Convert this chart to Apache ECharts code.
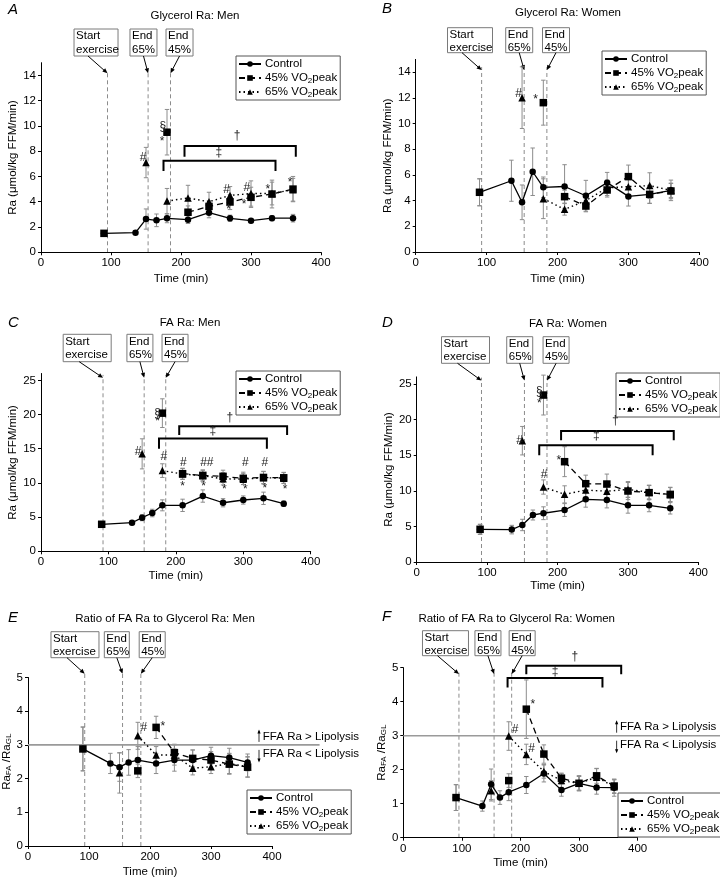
<!DOCTYPE html>
<html><head><meta charset="utf-8">
<script src="https://cdn.jsdelivr.net/npm/echarts@6/dist/echarts.min.js"></script>
<style>html,body{margin:0;padding:0;background:#fff}#c{width:720px;height:880px}</style>
</head><body><div id="c"></div>
<script>
const FONT = '"Liberation Sans", Arial, Helvetica, sans-serif';
// ---------- shared categories / ticks ----------
const times = [90,135,150,165,180,210,240,270,300,330,360];
const iso45Times = [90,180];
const rec45Times = [210,240,270,300,330,360];
const iso65Times = [150];
const rec65Times = [180,210,240,270,300,330,360];
const xTicks = [0,100,200,300,400];
const yTicksGly = [0,2,4,6,8,10,12,14];
const yTicksFA = [0,5,10,15,20,25];
const yTicksRatio = [0,1,2,3,4,5];
const seriesNames = ['Control','45% VO2peak','65% VO2peak'];
const eventLabels = [['Start','exercise'],['End','65%'],['End','45%']];
const titles = {A:'Glycerol Ra: Men',B:'Glycerol Ra: Women',C:'FA Ra: Men',D:'FA Ra: Women',E:'Ratio of FA Ra to Glycerol Ra: Men',F:'Ratio of FA Ra to Glycerol Ra: Women'};

// ---------- A: Glycerol Ra, men ----------
const glyMenCtrl = [1.5,1.55,2.63,2.53,2.69,2.58,3.13,2.69,2.5,2.7,2.7];
const glyMenCtrlErr = [0.1,0.1,0.8,0.5,0.35,0.3,0.4,0.25,0.15,0.2,0.3];
const glyMen45Iso = [1.5,9.5];
const glyMen45IsoErr = [0.1,1.8];
const glyMen45Rec = [3.17,3.63,3.98,4.35,4.61,5.0];
const glyMen45RecErr = [0.5,0.45,0.6,0.8,1.1,1.0];
const glyMen65Iso = [7.1];
const glyMen65IsoErr = [1.2];
const glyMen65Rec = [4.05,4.3,4.0,4.5,4.65,4.65,4.95];
const glyMen65RecErr = [1.0,1.0,0.75,0.7,1.0,0.9,0.9];
// ---------- B: Glycerol Ra, women ----------
const glyWomCtrl = [4.65,5.55,3.87,6.25,5.04,5.1,4.38,5.4,4.33,4.49,4.8];
const glyWomCtrlErr = [1.05,1.6,1.35,1.85,0.8,1.7,1.2,0.8,0.75,0.7,0.8];
const glyWom45Iso = [4.65,11.63];
const glyWom45IsoErr = [1.05,1.75];
const glyWom45Rec = [4.31,3.58,4.83,5.87,4.49,4.75];
const glyWom45RecErr = [0.5,0.45,0.55,0.9,0.7,0.6];
const glyWom65Iso = [12.02];
const glyWom65IsoErr = [2.4];
const glyWom65Rec = [4.15,3.32,4.0,5.0,5.09,5.17,4.8];
const glyWom65RecErr = [1.55,0.45,0.55,0.6,0.7,1.0,0.55];
// ---------- C: FA Ra, men ----------
const faMenCtrl = [3.95,4.18,4.92,5.6,6.72,6.72,8.08,7.1,7.5,7.75,6.96];
const faMenCtrlErr = [0.3,0.3,0.45,0.55,0.8,0.9,0.9,0.6,0.6,0.9,0.4];
const faMen45Iso = [3.95,20.2];
const faMen45IsoErr = [0.3,2.1];
const faMen45Rec = [11.35,11.1,10.96,10.67,10.8,10.75];
const faMen45RecErr = [0.8,0.8,0.9,0.9,0.9,0.8];
const faMen65Iso = [14.25];
const faMen65IsoErr = [2.2];
const faMen65Rec = [11.8,11.3,11.05,10.6,10.55,10.75,10.7];
const faMen65RecErr = [1.0,0.8,0.8,0.9,0.8,0.9,0.8];
// ---------- D: FA Ra, women ----------
const faWomCtrl = [4.59,4.55,5.2,6.6,6.85,7.3,8.8,8.7,7.96,7.96,7.54];
const faWomCtrlErr = [0.7,0.6,0.8,0.7,0.9,0.9,1.1,1.1,1.1,0.9,0.8];
const faWom45Iso = [4.59,23.45];
const faWom45IsoErr = [0.7,2.8];
const faWom45Rec = [14.09,11.0,10.95,9.97,9.74,9.5];
const faWom45RecErr = [2.1,1.2,1.4,1.2,1.0,1.0];
const faWom65Iso = [17.04];
const faWom65IsoErr = [2.0];
const faWom65Rec = [10.53,9.5,10.1,9.95,10.2,9.8,9.45];
const faWom65RecErr = [1.0,1.2,1.0,1.1,1.1,1.0,1.0];
// ---------- E: ratio, men ----------
const ratioMenCtrl = [2.88,2.45,2.34,2.48,2.55,2.45,2.55,2.55,2.68,2.62,2.48];
const ratioMenCtrlErr = [0.65,0.3,0.42,0.38,0.4,0.3,0.33,0.3,0.25,0.28,0.25];
const ratioMen45Iso = [2.88,2.23];
const ratioMen45IsoErr = [0.65,0.2];
const ratioMen45Rec = [3.52,2.77,2.6,2.55,2.43,2.34];
const ratioMen45RecErr = [0.33,0.25,0.25,0.25,0.3,0.3];
const ratioMen65Iso = [2.17];
const ratioMen65IsoErr = [0.6];
const ratioMen65Rec = [3.27,2.7,2.7,2.31,2.35,2.45,2.35];
const ratioMen65RecErr = [0.4,0.25,0.3,0.2,0.2,0.3,0.3];
// ---------- F: ratio, women ----------
const ratioWomCtrl = [1.18,0.93,1.57,1.18,1.34,1.55,1.89,1.4,1.6,1.48,1.47];
const ratioWomCtrlErr = [0.38,0.15,0.45,0.2,0.25,0.25,0.25,0.18,0.22,0.2,0.25];
const ratioWom45Iso = [1.18,1.68];
const ratioWom45IsoErr = [0.38,0.2];
const ratioWom45Rec = [3.78,2.46,1.75,1.6,1.82,1.52];
const ratioWom45RecErr = [0.86,0.27,0.15,0.22,0.22,0.2];
const ratioWom65Iso = [1.38];
const ratioWom65IsoErr = [0.3];
const ratioWom65Rec = [2.99,2.45,1.95,1.68,1.6,1.78,1.5];
const ratioWom65RecErr = [0.42,0.3,0.2,0.2,0.2,0.25,0.2];

// ---------- event lines (time, top value) ----------
const eventsA = [95,153,185], eventTopA = 14.4;
const eventsB = [93,153,185], eventTopB = 14.4;
const eventsC = [92,153,185], eventTopC = 25.8;
const eventsD = [92,153,185], eventTopD = 25.9;
const eventsE = [93,155,185], eventTopE = 5.2;
const eventsF = [95,155,185], eventTopF = 4.9;
// ---------- significance brackets [t1, t2, yTop, yEnd] ----------
const bracketsA = [[205,364,8.4,7.56],[175,335,7.25,6.43]];
const bracketsC = [[205,365,18.3,17.0],[175,335,16.5,15.0]];
const bracketsD = [[205,365,18.4,17.1],[174,335,16.4,15.0]];
const bracketsF = [[210,372,5.06,4.81],[178,340,4.7,4.42]];
// ---------- significance symbols [t, y, text] ----------
const notesA = [[146,7.45,'#'],[174,9.9,'§'],[173,8.75,'*'],[265,4.95,'#'],[294,5.15,'#'],[268,3.35,'*'],[290,3.75,'*'],[324,4.95,'*'],[356,5.5,'*'],[280,9.2,'†'],[254,7.85,'‡']];
const notesB = [[145,12.3,'#'],[169,11.85,'*']];
const notesC = [[144,14.6,'#'],[173,20.1,'§'],[173,18.9,'*'],[182,13.8,'#'],[211,12.9,'#'],[246,12.9,'##'],[303,12.9,'#'],[332,12.9,'#'],[210,9.4,'*'],[241,9.5,'*'],[272,9.0,'*'],[303,9.0,'*'],[332,9.1,'*'],[362,9.0,'*'],[280,19.5,'†'],[255,17.6,'‡']];
const notesD = [[146,17.1,'#'],[174,23.9,'§'],[174,22.3,'*'],[181,12.2,'#'],[202,14.3,'*'],[282,19.8,'†'],[255,17.7,'‡']];
const notesE = [[190,3.5,'#'],[221,3.55,'*']];
const notesF = [[191,3.19,'#'],[219,2.63,'#'],[221,3.9,'*'],[293,5.32,'†'],[259,4.88,'‡']];
const refLineValue = 3;
const refTexts = ['FFA Ra > Lipolysis','FFA Ra < Lipolysis'];

// ---------- layout (pixels) ----------
const layout = {
 A:{grid:{left:41,top:62.7,width:280,height:189.6},yMax:15,yTicks:yTicksGly,title:[195,16],letter:[8,2],leg:[236,56],
    box:{top:29,h:27,cx:[78.6,146.4,197.9],w:[44,27,27]},xGap:21,yGap:22,yName:'Ra (μmol/kg FFM/min)'},
 B:{grid:{left:415.7,top:59.4,width:283.6,height:192.6},yMax:15,yTicks:yTicksGly,title:[568,13.3],letter:[382,1],leg:[602,51],
    box:{top:27.7,h:25,cx:[76.6,146,197.9],w:[45,27,27]},xGap:21,yGap:21,yName:'Ra (μmol/kg FFM/min)'},
 C:{grid:{left:41,top:373.5,width:269.7,height:177.8},yMax:26,yTicks:yTicksFA,title:[190,323.3],letter:[8,315],leg:[236,371],
    box:{top:334.3,h:27.4,cx:[68.5,146.7,198.8],w:[48,26,26]},xGap:18.5,yGap:22,yName:'Ra (μmol/kg FFM/min)'},
 D:{grid:{left:416.7,top:376.9,width:281.7,height:185.1},yMax:26,yTicks:yTicksFA,title:[568,324.3],letter:[382,315],leg:[616,373],
    box:{top:336.7,h:26.6,cx:[69.3,146.3,197.9],w:[48,26,26]},xGap:18,yGap:22,yName:'Ra (μmol/kg FFM/min)'},
 E:{grid:{left:28,top:677.5,width:244,height:168.5},yMax:5,yTicks:yTicksRatio,title:[165,619.3],letter:[8,610],leg:[247,790],
    box:{top:631.7,h:26,cx:[77,145.6,203.6],w:[48,25,26]},xGap:20,yGap:13,yName:'Ra{sub|FA} /Ra{sub|GL}',
    ref:{xEnd:478,arrowT:378.7,textT:385}},
 F:{grid:{left:403.3,top:667.7,width:234.3,height:170},yMax:5,yTicks:yTicksRatio,title:[516.7,619.3],letter:[382,609],leg:[618,793],
    box:{top:630.7,h:25,cx:[72,144.5,202.9],w:[46,26,26]},xGap:19.6,yGap:11,yName:'Ra{sub|FA} /Ra{sub|GL}',
    ref:{xEnd:541,arrowT:364.2,textT:370}}
};

const panelData = {
 A:{ctrl:[glyMenCtrl,glyMenCtrlErr],i45:[glyMen45Iso,glyMen45IsoErr],r45:[glyMen45Rec,glyMen45RecErr],i65:[glyMen65Iso,glyMen65IsoErr],r65:[glyMen65Rec,glyMen65RecErr],ev:eventsA,evTop:eventTopA,br:bracketsA,notes:notesA},
 B:{ctrl:[glyWomCtrl,glyWomCtrlErr],i45:[glyWom45Iso,glyWom45IsoErr],r45:[glyWom45Rec,glyWom45RecErr],i65:[glyWom65Iso,glyWom65IsoErr],r65:[glyWom65Rec,glyWom65RecErr],ev:eventsB,evTop:eventTopB,br:[],notes:notesB},
 C:{ctrl:[faMenCtrl,faMenCtrlErr],i45:[faMen45Iso,faMen45IsoErr],r45:[faMen45Rec,faMen45RecErr],i65:[faMen65Iso,faMen65IsoErr],r65:[faMen65Rec,faMen65RecErr],ev:eventsC,evTop:eventTopC,br:bracketsC,notes:notesC},
 D:{ctrl:[faWomCtrl,faWomCtrlErr],i45:[faWom45Iso,faWom45IsoErr],r45:[faWom45Rec,faWom45RecErr],i65:[faWom65Iso,faWom65IsoErr],r65:[faWom65Rec,faWom65RecErr],ev:eventsD,evTop:eventTopD,br:bracketsD,notes:notesD},
 E:{ctrl:[ratioMenCtrl,ratioMenCtrlErr],i45:[ratioMen45Iso,ratioMen45IsoErr],r45:[ratioMen45Rec,ratioMen45RecErr],i65:[ratioMen65Iso,ratioMen65IsoErr],r65:[ratioMen65Rec,ratioMen65RecErr],ev:eventsE,evTop:eventTopE,br:[],notes:notesE},
 F:{ctrl:[ratioWomCtrl,ratioWomCtrlErr],i45:[ratioWom45Iso,ratioWom45IsoErr],r45:[ratioWom45Rec,ratioWom45RecErr],i65:[ratioWom65Iso,ratioWom65IsoErr],r65:[ratioWom65Rec,ratioWom65RecErr],ev:eventsF,evTop:eventTopF,br:bracketsF,notes:notesF}
};

const keys = ['A','B','C','D','E','F'];
const zip = (xs, ys) => xs.map((x,i)=>[x, ys[i]]);
const zip3 = (xs, ys, es) => xs.map((x,i)=>[x, ys[i], es[i]]);
const txt = {fontFamily:FONT, fontSize:11.5, color:'#000'};
const subRich = {sub:{fontFamily:FONT, fontSize:8, color:'#000', verticalAlign:'bottom', lineHeight:10}};

const grids=[], xAxes=[], yAxes=[], series=[], legends=[], graphics=[];
keys.forEach((k, gi) => {
  const L = layout[k], D = panelData[k];
  grids.push(Object.assign({outerBoundsMode:'none', containLabel:false}, L.grid));
  xAxes.push({gridIndex:gi, type:'value', min:0, max:400, interval:100,
    axisLine:{lineStyle:{color:'#000',width:1}}, axisTick:{length:3,lineStyle:{color:'#000'}},
    axisLabel:Object.assign({margin:5}, txt), splitLine:{show:false},
    name:'Time (min)', nameLocation:'middle', nameGap:L.xGap, nameTextStyle:txt});
  yAxes.push({gridIndex:gi, type:'value', min:0, max:L.yMax,
    axisLine:{show:true, lineStyle:{color:'#000',width:1}},
    axisTick:{show:true, length:3, lineStyle:{color:'#000'}, customValues:L.yTicks},
    axisLabel:Object.assign({margin:5, customValues:L.yTicks}, txt), splitLine:{show:false},
    name:L.yName, nameLocation:'middle', nameGap:L.yGap,
    nameTextStyle:Object.assign({rich:{sub:{fontFamily:FONT,fontSize:8,color:'#000',verticalAlign:'bottom',lineHeight:9}}}, txt)});

  const ax = {xAxisIndex:gi, yAxisIndex:gi};
  // error bars
  const errPts = [].concat(zip3(times, D.ctrl[0], D.ctrl[1]), zip3(iso45Times, D.i45[0], D.i45[1]),
    zip3(rec45Times, D.r45[0], D.r45[1]), zip3(iso65Times, D.i65[0], D.i65[1]), zip3(rec65Times, D.r65[0], D.r65[1]));
  series.push(Object.assign({type:'custom', name:'err'+k, z:1, silent:true, clip:false, encode:{x:0,y:1}, data:errPts,
    renderItem:(p, api) => {
      const t=api.value(0), v=api.value(1), e=api.value(2);
      const a=api.coord([t,v+e]), b=api.coord([t,v-e]), w=2.2;
      const st={stroke:'#8c8c8c', lineWidth:1};
      return {type:'group', children:[
        {type:'line', shape:{x1:a[0],y1:a[1],x2:b[0],y2:b[1]}, style:st},
        {type:'line', shape:{x1:a[0]-w,y1:a[1],x2:a[0]+w,y2:a[1]}, style:st},
        {type:'line', shape:{x1:b[0]-w,y1:b[1],x2:b[0]+w,y2:b[1]}, style:st}]};
    }}, ax));
  // event dashed lines + boxes + arrows
  series.push(Object.assign({type:'custom', name:'ev'+k, z:0, silent:true, clip:false, encode:{x:0,y:1},
    data:D.ev.map((t,i)=>[t, D.evTop, i]),
    renderItem:(p, api) => {
      const i=p.dataIndex, t=api.value(0), top=api.value(1);
      const p0=api.coord([t,0]), p1=api.coord([t,top]);
      const B=L.box, bx=api.coord([B.cx[i],0])[0], w=B.w[i], x0=bx-w/2, y0=B.top, h=B.h;
      const sx=bx+(i===0?-8:0), sy=y0+h, ex=p1[0], ey=p1[1]+3;
      const ang=Math.atan2(ey-sy, ex-sx), hl=5, hw=2.2, c=Math.cos(ang), s=Math.sin(ang);
      return {type:'group', children:[
        {type:'line', shape:{x1:p0[0],y1:p0[1],x2:p1[0],y2:p1[1]}, style:{stroke:'#8c8c8c', lineWidth:1, lineDash:[4,3]}},
        {type:'rect', shape:{x:x0,y:y0,width:w,height:h}, style:{fill:'#fff', stroke:'#7a7a7a', lineWidth:1}},
        {type:'text', x:x0+2, y:y0+0.5, style:{text:eventLabels[i].join('\n'), fontFamily:FONT, fontSize:11.5, fill:'#000', lineHeight:13.3, align:'left', verticalAlign:'top'}},
        {type:'line', shape:{x1:sx,y1:sy,x2:ex-hl*c*0.8,y2:ey-hl*s*0.8}, style:{stroke:'#000', lineWidth:1}},
        {type:'polygon', shape:{points:[[ex,ey],[ex-hl*c+hw*s, ey-hl*s-hw*c],[ex-hl*c-hw*s, ey-hl*s+hw*c]]}, style:{fill:'#000'}}]};
    }}, ax));
  // data lines
  series.push(Object.assign({type:'line', name:seriesNames[0], z:3, data:zip(times, D.ctrl[0]), symbol:'circle', symbolSize:6.5, showAllSymbol:true,
    lineStyle:{color:'#000', width:1.3, type:'solid'}, itemStyle:{color:'#000', opacity:1}, animation:false}, ax));
  series.push(Object.assign({type:'line', name:seriesNames[1], z:3, data:zip(rec45Times, D.r45[0]), symbol:'rect', symbolSize:7.5, showAllSymbol:true,
    lineStyle:{color:'#000', width:1.3, type:[6,4]}, itemStyle:{color:'#000', opacity:1}, animation:false}, ax));
  series.push(Object.assign({type:'line', name:seriesNames[2], z:3, data:zip(rec65Times, D.r65[0]), symbol:'triangle', symbolSize:7.5, showAllSymbol:true,
    lineStyle:{color:'#000', width:1.4, type:[1.5,3]}, itemStyle:{color:'#000', opacity:1}, animation:false}, ax));
  series.push(Object.assign({type:'scatter', name:seriesNames[1], z:4, data:zip(iso45Times, D.i45[0]), symbol:'rect', symbolSize:7.5,
    itemStyle:{color:'#000', opacity:1}, animation:false}, ax));
  series.push(Object.assign({type:'scatter', name:seriesNames[2], z:4, data:zip(iso65Times, D.i65[0]), symbol:'triangle', symbolSize:7.5,
    itemStyle:{color:'#000', opacity:1}, animation:false}, ax));
  // brackets
  if (D.br.length) series.push(Object.assign({type:'custom', name:'br'+k, z:2, silent:true, clip:false, encode:{x:0,y:2}, data:D.br,
    renderItem:(p, api) => {
      const t1=api.value(0), t2=api.value(1), yt=api.value(2), ye=api.value(3);
      const a=api.coord([t1,ye]), b=api.coord([t1,yt]), c=api.coord([t2,yt]), d=api.coord([t2,ye]);
      return {type:'polyline', shape:{points:[a,b,c,d]}, style:{stroke:'#000', lineWidth:2, fill:null}};
    }}, ax));
  // symbols
  series.push(Object.assign({type:'custom', name:'nt'+k, z:5, silent:true, clip:false, encode:{x:0,y:1}, data:D.notes,
    renderItem:(p, api) => {
      const n=D.notes[p.dataIndex], pt=api.coord([n[0], n[1]]);
      return {type:'text', x:pt[0], y:pt[1], style:{text:n[2], fontFamily:FONT, fontSize:12, fill:'#222', align:'center', verticalAlign:'middle'}};
    }}, ax));
  // reference line
  if (L.ref) series.push(Object.assign({type:'custom', name:'ref'+k, z:2, silent:true, clip:false, encode:{x:0,y:1},
    data:[[0, refLineValue]],
    renderItem:(p, api) => {
      const a=api.coord([0,refLineValue]), b=api.coord([L.ref.xEnd,refLineValue]);
      const axp=api.coord([L.ref.arrowT,refLineValue])[0], tx=api.coord([L.ref.textT,refLineValue])[0], y=a[1];
      const st={stroke:'#000', lineWidth:0.8};
      return {type:'group', children:[
        {type:'line', shape:{x1:a[0],y1:y,x2:b[0],y2:y}, style:{stroke:'#9a9a9a', lineWidth:1.6}},
        {type:'line', shape:{x1:axp,y1:y-3,x2:axp,y2:y-14}, style:st},
        {type:'polygon', shape:{points:[[axp,y-15.5],[axp-1.6,y-11.5],[axp+1.6,y-11.5]]}, style:{fill:'#000'}},
        {type:'line', shape:{x1:axp,y1:y+5,x2:axp,y2:y+16}, style:st},
        {type:'polygon', shape:{points:[[axp,y+17.5],[axp-1.6,y+13.5],[axp+1.6,y+13.5]]}, style:{fill:'#000'}},
        {type:'text', x:tx, y:y-8.5, style:{text:refTexts[0], fontFamily:FONT, fontSize:11.5, fill:'#000', align:'left', verticalAlign:'middle'}},
        {type:'text', x:tx, y:y+9, style:{text:refTexts[1], fontFamily:FONT, fontSize:11.5, fill:'#000', align:'left', verticalAlign:'middle'}}]};
    }}, ax));

  legends.push({left:L.leg[0], top:L.leg[1], orient:'vertical', data:seriesNames, selectedMode:false,
    itemGap:0, itemWidth:22, itemHeight:7, padding:[1,3,1,2], borderColor:'#555', borderWidth:1, backgroundColor:'#fff',
    textStyle:Object.assign({rich:subRich, lineHeight:14, padding:[0,0,0,-1]}, txt),
    formatter:n => n.replace('VO2', 'VO{sub|2}')});
  graphics.push({type:'text', x:L.title[0], y:L.title[1], style:{text:titles[k], fontFamily:FONT, fontSize:11.5, fill:'#000', align:'center', verticalAlign:'middle'}});
  graphics.push({type:'text', x:L.letter[0], y:L.letter[1], style:{text:k, fontFamily:FONT, fontSize:15, fontStyle:'italic', fill:'#000', align:'left', verticalAlign:'top'}});
});

const chart = echarts.init(document.getElementById('c'), null, {renderer:'canvas', width:720, height:880});
chart.setOption({animation:false, backgroundColor:'#fff', grid:grids, xAxis:xAxes, yAxis:yAxes, series:series, legend:legends, graphic:graphics});
</script></body></html>
